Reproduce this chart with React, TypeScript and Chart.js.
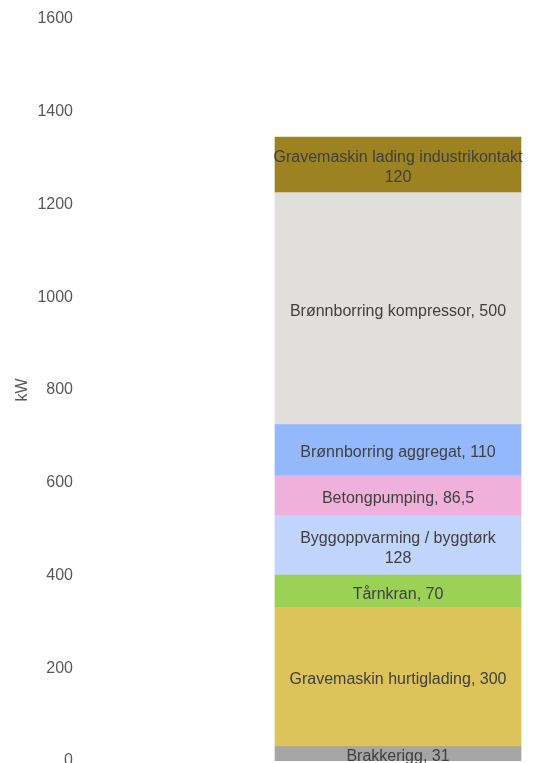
import React, { useEffect, useRef } from 'react';
import { Chart, registerables } from 'chart.js';

Chart.register(...registerables);

const categories: string[] = [
  'Brakkerigg',
  'Gravemaskin hurtiglading',
  'Tårnkran',
  'Byggoppvarming / byggtørk',
  'Betongpumping',
  'Brønnborring aggregat',
  'Brønnborring kompressor',
  'Gravemaskin lading industrikontakt',
];
const values: number[] = [31, 300, 70, 128, 86.5, 110, 500, 120];
const colors: string[] = [
  '#a5a5a5',
  '#dcc35a',
  '#9bd256',
  '#c0d4fc',
  '#f0b0dc',
  '#94b8fc',
  '#e0dfdb',
  '#9c8220',
];
const yTicks: number[] = [0, 200, 400, 600, 800, 1000, 1200, 1400, 1600];
const axisTitle = 'kW';

const FONT_FAMILY = "'Liberation Sans', Arial, Helvetica, sans-serif";

const fmt = (v: number) => String(v).replace('.', ',');

const labelPlugin = {
  id: 'segmentLabels',
  afterDatasetsDraw(chart: any) {
    const ctx = chart.ctx;
    ctx.save();
    ctx.font = `16px ${FONT_FAMILY}`;
    ctx.fillStyle = '#404040';
    ctx.textAlign = 'center';
    ctx.textBaseline = 'middle';
    chart.data.datasets.forEach((ds: any, i: number) => {
      const meta = chart.getDatasetMeta(i);
      const el: any = meta.data[0];
      if (!el) return;
      const { x, y, base, width } = el.getProps(['x', 'y', 'base', 'width'], true);
      const cy = (y + base) / 2 + 3;
      const name = categories[i];
      const val = fmt(values[i]);
      const full = `${name}, ${val}`;
      if (ctx.measureText(full).width > width * 0.9) {
        ctx.fillText(name, x, cy - 10);
        ctx.fillText(val, x, cy + 10);
      } else {
        ctx.fillText(full, x, cy);
      }
    });
    ctx.restore();
  },
};

export default function App() {
  const ref = useRef<HTMLCanvasElement | null>(null);
  useEffect(() => {
    if (!ref.current) return;
    const chart = new Chart(ref.current, {
      type: 'bar',
      data: {
        labels: [''],
        datasets: categories.map((c, i) => ({
          label: c,
          data: [values[i]],
          backgroundColor: colors[i],
          borderWidth: 0,
          barThickness: 246,
          stack: 's',
        })),
      },
      options: {
        responsive: false,
        animation: false,
        layout: { padding: { top: 11, left: 0, right: 0, bottom: 47 } },
        plugins: {
          legend: { display: false },
          tooltip: { enabled: false },
        },
        scales: {
          x: {
            display: false,
            stacked: true,
          },
          y: {
            stacked: true,
            min: 0,
            max: 1600,
            afterBuildTicks: (s: any) => {
              s.ticks = yTicks.map((v) => ({ value: v }));
            },
            afterFit: (s: any) => {
              s.width = 256;
              s.paddingTop = 0;
              s.paddingBottom = 0;
            },
            grid: { display: false, drawTicks: false, tickLength: 0 },
            border: { display: false },
            ticks: {
              padding: 191,
              color: '#595959',
              font: { size: 16, family: FONT_FAMILY },
              callback: (v: any) => String(v),
            },
            title: {
              display: true,
              text: axisTitle,
              color: '#595959',
              font: { size: 16, family: FONT_FAMILY },
              padding: { top: 5, bottom: 4 },
            },
          },
        },
      },
      plugins: [labelPlugin],
    });
    return () => chart.destroy();
  }, []);
  return (
    <canvas
      ref={ref}
      width={524}
      height={800}
      style={{ display: 'block', width: 524, height: 800 }}
    />
  );
}
